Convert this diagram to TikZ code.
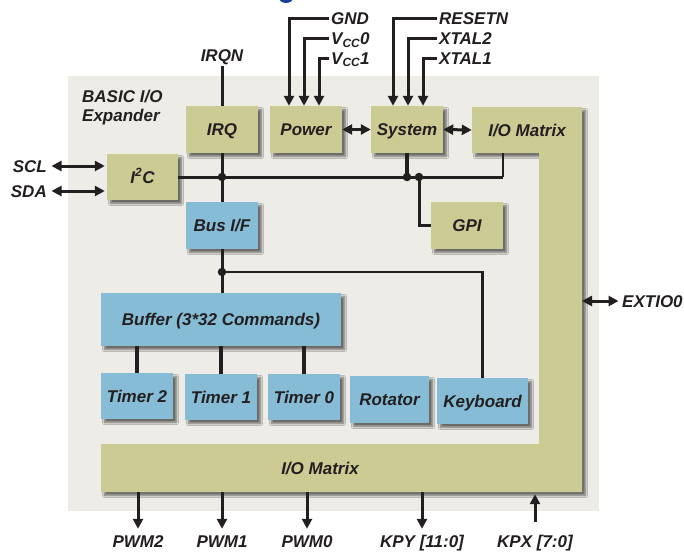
\documentclass[tikz,border=0pt]{standalone}
\usepackage{fontspec}
\setmainfont{Liberation Sans}
\usetikzlibrary{arrows.meta,shadows.blur}
\definecolor{khaki}{HTML}{CCCB94}
\definecolor{boxblue}{HTML}{86BCD6}
\definecolor{panel}{HTML}{EDECE6}
\definecolor{ink}{HTML}{231F20}
\definecolor{titleblue}{HTML}{1A3E9A}
\begin{document}
\begin{tikzpicture}[x=1pt,y=-1pt,
  font=\fontsize{17}{18}\selectfont\bfseries\itshape,
  txt/.style={inner sep=0pt, text height=12pt, text depth=0pt, text=ink},
  lbl/.style={txt, inner xsep=2.5pt},
  shad/.style={blur shadow={shadow xshift=3.5pt, shadow yshift=-3.5pt, shadow blur steps=6, shadow opacity=55}},
  kbox/.style={txt, fill=khaki, shad},
  bbox/.style={txt, fill=boxblue, shad},
  wire/.style={draw=ink, line width=3pt},
  thickwire/.style={draw=ink, line width=4.5pt},
  thinwire/.style={draw=ink, line width=2.6pt},
  arr/.style={wire, -{Triangle[length=10pt,width=10pt]}},
  darr/.style={wire, {Triangle[length=10pt,width=10pt]}-{Triangle[length=10pt,width=10pt]}},
  dot/.style={circle, fill=ink, inner sep=0pt, minimum size=8.5pt}]
\useasboundingbox (0,0) rectangle (684,551);
\fill[white] (0,0) rectangle (684,551);
\fill[titleblue] (286,-2) ellipse [x radius=7, y radius=5];
% panel
\fill[panel] (68,76) rectangle (599,511);
% L-shaped I/O matrix
\fill[khaki, shad] (472,107) -- (582,107) -- (582,492) -- (101,492) -- (101,444)
  -- (539,444) -- (539,153) -- (472,153) -- cycle;
\node[txt, minimum width=110pt, minimum height=46pt] (iom) at (527,130) {I/O Matrix};
\node[txt, minimum width=438pt, minimum height=48pt] (iomb) at (320,468) {I/O Matrix};
\coordinate (iomedge) at (582,301);
\coordinate (iombus) at ([xshift=-24pt]iom.south);
% title text
\node[txt, anchor=west] (basic) at (82,96.5) {BASIC I/O};
\node[txt, anchor=west] (expander) at (82,115) {Expander};
% boxes
\node[kbox, minimum width=72pt, minimum height=47pt] (IRQ) at (222,129.5) {IRQ};
\node[kbox, minimum width=72pt, minimum height=47pt] (Power) at (306,129.5) {Power};
\node[kbox, minimum width=72pt, minimum height=47pt] (System) at (407,129.5) {System};
\node[kbox, minimum width=71pt, minimum height=46pt] (I2C) at (142.5,177) {I\textsuperscript{2}C};
\node[bbox, minimum width=72pt, minimum height=47pt] (BusIF) at (222,225.5) {Bus I/F};
\node[kbox, minimum width=72pt, minimum height=47pt] (GPI) at (467,225.5) {GPI};
\node[bbox, minimum width=240pt, minimum height=53pt] (Buffer) at (221,319.5) {Buffer (3*32 Commands)};
\node[bbox, minimum width=72pt, minimum height=46pt] (T2) at (137,396) {Timer 2};
\node[bbox, minimum width=72pt, minimum height=46pt] (T1) at (221,397) {Timer 1};
\node[bbox, minimum width=72pt, minimum height=46pt] (T0) at (304,397) {Timer 0};
\node[bbox, minimum width=79pt, minimum height=47pt] (Rot) at (389.5,399.5) {Rotator};
\node[bbox, minimum width=91pt, minimum height=46pt] (Key) at (482.5,401) {Keyboard};
% external labels
\node[lbl] (IRQN) at (222,55) {IRQN};
\node[lbl, anchor=west] (GND) at (328.5,19) {GND};
\node[lbl, anchor=west] (VCC0) at (328.5,39) {V\textsubscript{CC}0};
\node[lbl, anchor=west] (VCC1) at (328.5,58) {V\textsubscript{CC}1};
\node[lbl, anchor=west] (RESETN) at (436.5,19) {RESETN};
\node[lbl, anchor=west] (XTAL2) at (436.5,39) {XTAL2};
\node[lbl, anchor=west] (XTAL1) at (436.5,58) {XTAL1};
\node[lbl, anchor=east] (SCL) at (49.5,166) {SCL};
\node[lbl, anchor=east] (SDA) at (49.5,191) {SDA};
\node[lbl, anchor=west] (EXTIO) at (619.5,301) {EXTIO0};
\node[lbl] (PWM2) at (138,541) {PWM2};
\node[lbl] (PWM1) at (222,541) {PWM1};
\node[lbl] (PWM0) at (307,541) {PWM0};
\node[lbl] (KPY) at (422,541) {KPY [11:0]};
\node[lbl] (KPX) at (535,541) {KPX [7:0]};
% top inputs
\draw[wire, shorten <=5pt] (IRQN) -- (IRQ);
\draw[arr] (GND.west) -| ([xshift=-17pt]Power.north);
\draw[arr] (VCC0.west) -| ([xshift=-2pt]Power.north);
\draw[arr] (VCC1.west) -| ([xshift=13pt]Power.north);
\draw[arr] (RESETN.west) -| ([xshift=-14pt]System.north);
\draw[arr] (XTAL2.west) -| ([xshift=1pt]System.north);
\draw[arr] (XTAL1.west) -| ([xshift=16pt]System.north);
\draw[darr] (Power.east) -- (System.west);
\draw[darr] (System.east) -- (iom.west);
% I2C
\draw[darr, shorten <=2pt, shorten >=2pt] (SCL.east) -- (SCL.east -| I2C.west);
\draw[darr, shorten <=2pt, shorten >=2pt] (SDA.east) -- (SDA.east -| I2C.west);
% internal bus
\draw[wire] (IRQ.south) -- (BusIF.north);
\draw[wire] (I2C.east) -- (I2C.east -| iombus);
\draw[thinwire] (I2C.east -| iombus) -- (iombus);
\node[dot] (d1) at (IRQ.south |- I2C.east) {};
\draw[thickwire] (System.south) -- (System.south |- I2C.east);
\node[dot] (d2) at (System.south |- I2C.east) {};
\coordinate (gpitap) at ([xshift=12pt]d2.center);
\node[dot] (d3) at (gpitap) {};
\draw[wire] (d3.center) |- (GPI.west);
\coordinate (busy) at (0,272);
\draw[wire] (BusIF.south) -- (BusIF.south |- Buffer.north);
\node[dot] (d4) at (BusIF.south |- busy) {};
\draw[thinwire] (d4.center) -| (Key.north);
% timers
\draw[thickwire] (T2.north) -- (T2.north |- Buffer.south);
\draw[thickwire] (T1.north) -- (T1.north |- Buffer.south);
\draw[thickwire] (T0.north) -- (T0.north |- Buffer.south);
% right and bottom I/O
\draw[darr, shorten >=1pt] (EXTIO.west -| iomedge) -- (EXTIO.west);
\draw[arr] (PWM2.north |- iomb.south) -- ([yshift=6pt]PWM2.north);
\draw[arr] (PWM1.north |- iomb.south) -- ([yshift=6pt]PWM1.north);
\draw[arr] (PWM0.north |- iomb.south) -- ([yshift=6pt]PWM0.north);
\draw[arr] (KPY.north |- iomb.south) -- ([yshift=6pt]KPY.north);
\coordinate (kpxtail) at ([yshift=13pt]KPX.north);
\draw[arr, shorten >=2pt] (kpxtail) -- (kpxtail |- iomb.south);
\end{tikzpicture}
\end{document}
